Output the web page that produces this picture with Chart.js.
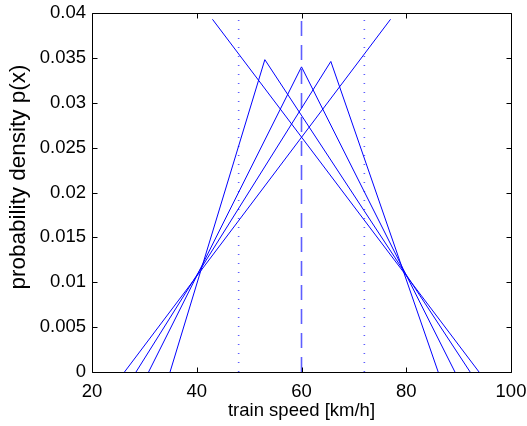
<!DOCTYPE html>
<html>
<head>
<meta charset="utf-8">
<script src="https://cdn.jsdelivr.net/npm/chart.js@4.4.1/dist/chart.umd.min.js"></script>
<style>
  html, body { margin: 0; padding: 0; background: #fff; }
  #wrap { width: 527px; height: 426px; }
</style>
</head>
<body>
<div id="wrap"><canvas id="pdfChart" width="527" height="426"></canvas></div>
<script>
// Werte
const xTicks = [20, 40, 60, 80, 100];
const yTicks = [0, 0.005, 0.01, 0.015, 0.02, 0.025, 0.03, 0.035, 0.04];

// Dreiecksverteilungen: x-Ecken und Dichte-Ecken
const triX = [
  [26.2, 77],
  [28.4, 65.6, 86.1],
  [30.8, 60, 89.3],
  [34.9, 53, 92.2],
  [43, 93.9]
];
const triY = [
  [0, 0.0393],
  [0, 0.0346, 0],
  [0, 0.0340, 0],
  [0, 0.0348, 0],
  [0.0393, 0]
];

// senkrechte Hilfslinien (Mittelwert gestrichelt, Grenzen gepunktet)
const refX = [48, 60, 72];
const refDash = [[1, 8], [15, 9], [1, 8]];
const refTop = 0.04;

const yTitle = 'probability density p(x)';

const FONT = { family: 'Liberation Sans, Arial, sans-serif', size: 18.5 };

const datasets = [];
triX.forEach(function(xs, i) {
  datasets.push({
    data: xs.map(function(x, j) { return { x: x, y: triY[i][j] }; }),
    borderColor: '#0000ff',
    borderWidth: 1,
    pointRadius: 0,
    tension: 0,
    fill: false
  });
});
refX.forEach(function(x, i) {
  datasets.push({
    data: [{ x: x, y: 0 }, { x: x, y: refTop }],
    borderColor: 'rgba(40,40,255,0.75)',
    borderWidth: 1.6,
    borderDash: refDash[i],
    pointRadius: 0,
    fill: false
  });
});

// Rahmen mit nach innen zeigenden Ticks (wie in MATLAB) + y-Beschriftung
const boxPlugin = {
  id: 'boxPlugin',
  afterDraw: function(chart) {
    const ctx = chart.ctx;
    const sx = chart.scales.x, sy = chart.scales.y;
    const l = Math.round(sx.getPixelForValue(20)) + 0.5;
    const r = Math.round(sx.getPixelForValue(100)) + 0.5;
    const t = Math.round(sy.getPixelForValue(0.04)) + 0.5;
    const b = Math.round(sy.getPixelForValue(0)) + 0.5;
    const L = 5;
    ctx.save();
    ctx.strokeStyle = '#000';
    ctx.lineWidth = 1;
    ctx.beginPath();
    ctx.rect(l, t, r - l, b - t);
    xTicks.forEach(function(v) {
      const px = Math.round(sx.getPixelForValue(v)) + 0.5;
      ctx.moveTo(px, b); ctx.lineTo(px, b - L);
      ctx.moveTo(px, t); ctx.lineTo(px, t + L);
    });
    yTicks.forEach(function(v) {
      const py = Math.round(sy.getPixelForValue(v)) + 0.5;
      ctx.moveTo(l, py); ctx.lineTo(l + L, py);
      ctx.moveTo(r, py); ctx.lineTo(r - L, py);
    });
    ctx.stroke();

    // y-Achsentitel
    ctx.translate(19, 177);
    ctx.rotate(-Math.PI / 2);
    ctx.fillStyle = '#000';
    ctx.font = '22.5px Liberation Sans, Arial, sans-serif';
    ctx.textAlign = 'center';
    ctx.textBaseline = 'middle';
    ctx.fillText(yTitle, 0, 0);
    ctx.restore();
  }
};

new Chart(document.getElementById('pdfChart').getContext('2d'), {
  type: 'line',
  data: { datasets: datasets },
  options: {
    responsive: false,
    animation: false,
    events: [],
    layout: { padding: { top: 13, right: 16, left: 0, bottom: 0 } },
    plugins: { legend: { display: false }, tooltip: { enabled: false } },
    scales: {
      x: {
        type: 'linear',
        min: 20, max: 100,
        afterBuildTicks: function(s) { s.ticks = xTicks.map(function(v) { return { value: v }; }); },
        afterFit: function(s) { s.height = 54; s.paddingLeft = 0; s.paddingRight = 0; },
        grid: { display: false, drawTicks: true, tickLength: 9 },
        border: { display: false },
        ticks: { color: '#000', font: FONT, padding: 0, maxRotation: 0 },
        title: { display: true, text: 'train speed [km/h]', color: '#000', font: FONT, padding: { top: 0, bottom: 4 } }
      },
      y: {
        type: 'linear',
        min: 0, max: 0.04,
        afterBuildTicks: function(s) { s.ticks = yTicks.map(function(v) { return { value: v }; }); },
        afterFit: function(s) { s.width = 92; s.paddingTop = 0; s.paddingBottom = 0; },
        grid: { display: false, drawTicks: false },
        border: { display: false },
        ticks: {
          color: '#000', font: FONT, padding: 6,
          callback: function(v) { return String(+Number(v).toFixed(3)); }
        }
      }
    }
  },
  plugins: [boxPlugin]
});
</script>
</body>
</html>
